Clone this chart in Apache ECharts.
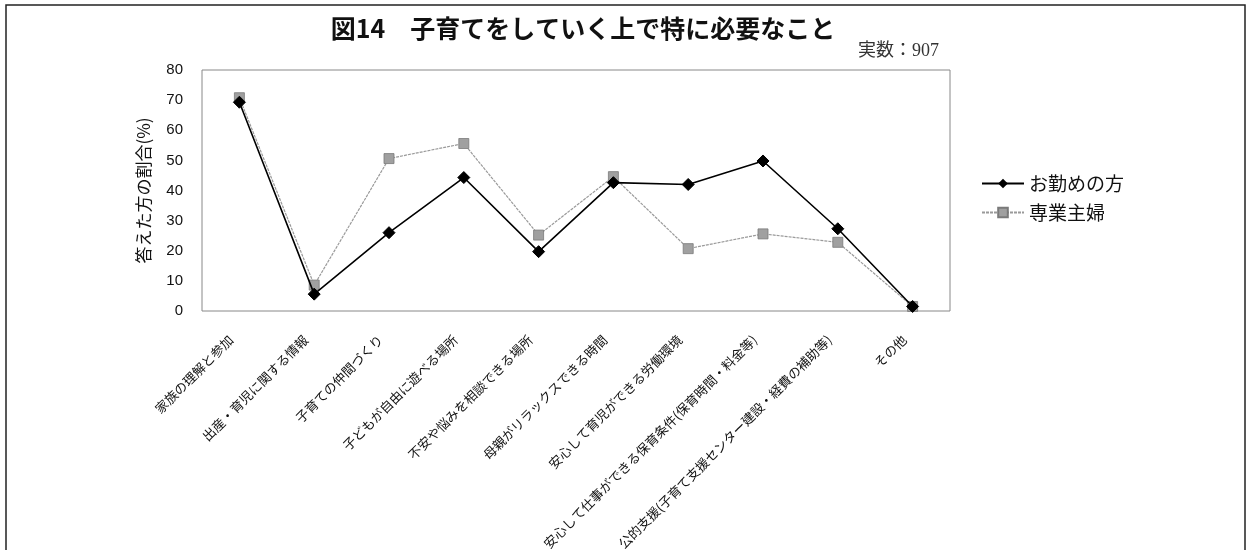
<!DOCTYPE html>
<html>
<head>
<meta charset="utf-8">
<script src="https://cdn.jsdelivr.net/npm/echarts@6/dist/echarts.min.js"></script>
<style>
  html, body { margin: 0; padding: 0; background: #fff; }
  #chart { width: 1250px; height: 550px; }
</style>
</head>
<body>
<div id="chart"></div>
<script>
// 子育てをしていく上で特に必要なこと（複数回答, %）
const categories = [
  '家族の理解と参加',
  '出産・育児に関する情報',
  '子育ての仲間づくり',
  '子どもが自由に遊べる場所',
  '不安や悩みを相談できる場所',
  '母親がリラックスできる時間',
  '安心して育児ができる労働環境',
  '安心して仕事ができる保育条件(保育時間・料金等)',
  '公的支援(子育て支援センター建設・経費の補助等)',
  'その他'
];
const workingMothers = [69.3, 5.6, 26.0, 44.3, 19.7, 42.6, 42.0, 49.8, 27.3, 1.5];
const housewives = [70.8, 8.6, 50.6, 55.6, 25.2, 44.6, 20.7, 25.6, 22.8, 1.5];
const seriesNames = ['お勤めの方', '専業主婦'];
const yTicks = { min: 0, max: 80, interval: 10 };

const FONT = '"Noto Sans CJK JP", "Noto Sans", sans-serif';
const chart = echarts.init(document.getElementById('chart'));

chart.setOption({
  backgroundColor: '#fff',
  animation: false,
  textStyle: { fontFamily: FONT, color: '#000' },
  title: [
    {
      text: '図14　子育てをしていく上で特に必要なこと',
      left: 578, top: 11, textAlign: 'center',
      textStyle: { fontFamily: FONT, fontSize: 25, fontWeight: 'bold', color: '#111' }
    },
    {
      text: '実数：907',
      left: 853, top: 37,
      textStyle: { fontFamily: '"Liberation Serif", "Noto Sans CJK JP", serif', fontSize: 18, fontWeight: 'normal', color: '#333' }
    }
  ],
  graphic: [
    {
      type: 'rect',
      shape: { x: 6, y: 5, width: 1239, height: 560 },
      style: { fill: 'none', stroke: '#222', lineWidth: 1.5 },
      silent: true
    }
  ],
  legend: {
    orient: 'vertical',
    left: 976, top: 169,
    itemWidth: 42, itemHeight: 12, itemGap: 10,
    textStyle: { fontFamily: FONT, fontSize: 19, color: '#111' },
    data: seriesNames
  },
  grid: { left: 202, right: 300, top: 70, bottom: 239, containLabel: false,
          outerBoundsMode: 'none',
          show: true, borderColor: '#888', borderWidth: 1, backgroundColor: '#fff' },
  xAxis: {
    type: 'category',
    data: categories,
    boundaryGap: true,
    axisLine: { show: false },
    axisTick: { show: false },
    axisLabel: {
      interval: 0, rotate: 45, fontSize: 13, margin: 18, padding: [0, 12, 0, 0],
      color: '#111', fontFamily: FONT
    }
  },
  yAxis: {
    type: 'value',
    min: yTicks.min, max: yTicks.max, interval: yTicks.interval,
    name: '答えた方の割合(%)',
    nameLocation: 'middle',
    nameGap: 50,
    nameTextStyle: { fontFamily: FONT, fontSize: 17, color: '#111' },
    axisLine: { show: false },
    axisTick: { show: false },
    splitLine: { show: false },
    axisLabel: { fontSize: 15, margin: 19, color: '#111', fontFamily: '"Liberation Sans", Arial, sans-serif' }
  },
  series: [
    {
      name: seriesNames[0],
      type: 'line',
      data: workingMothers,
      symbol: 'diamond',
      symbolSize: 12,
      z: 3,
      lineStyle: { color: '#000', width: 1.6 },
      itemStyle: { color: '#000', borderColor: '#000' }
    },
    {
      name: seriesNames[1],
      type: 'line',
      data: housewives,
      symbol: 'rect',
      symbolSize: 10,
      z: 2,
      lineStyle: { color: '#9a9a9a', width: 1.2, type: [3, 1] },
      itemStyle: { color: '#a0a0a0', borderColor: '#7a7a7a', borderWidth: 0.8 }
    }
  ]
});
</script>
</body>
</html>
